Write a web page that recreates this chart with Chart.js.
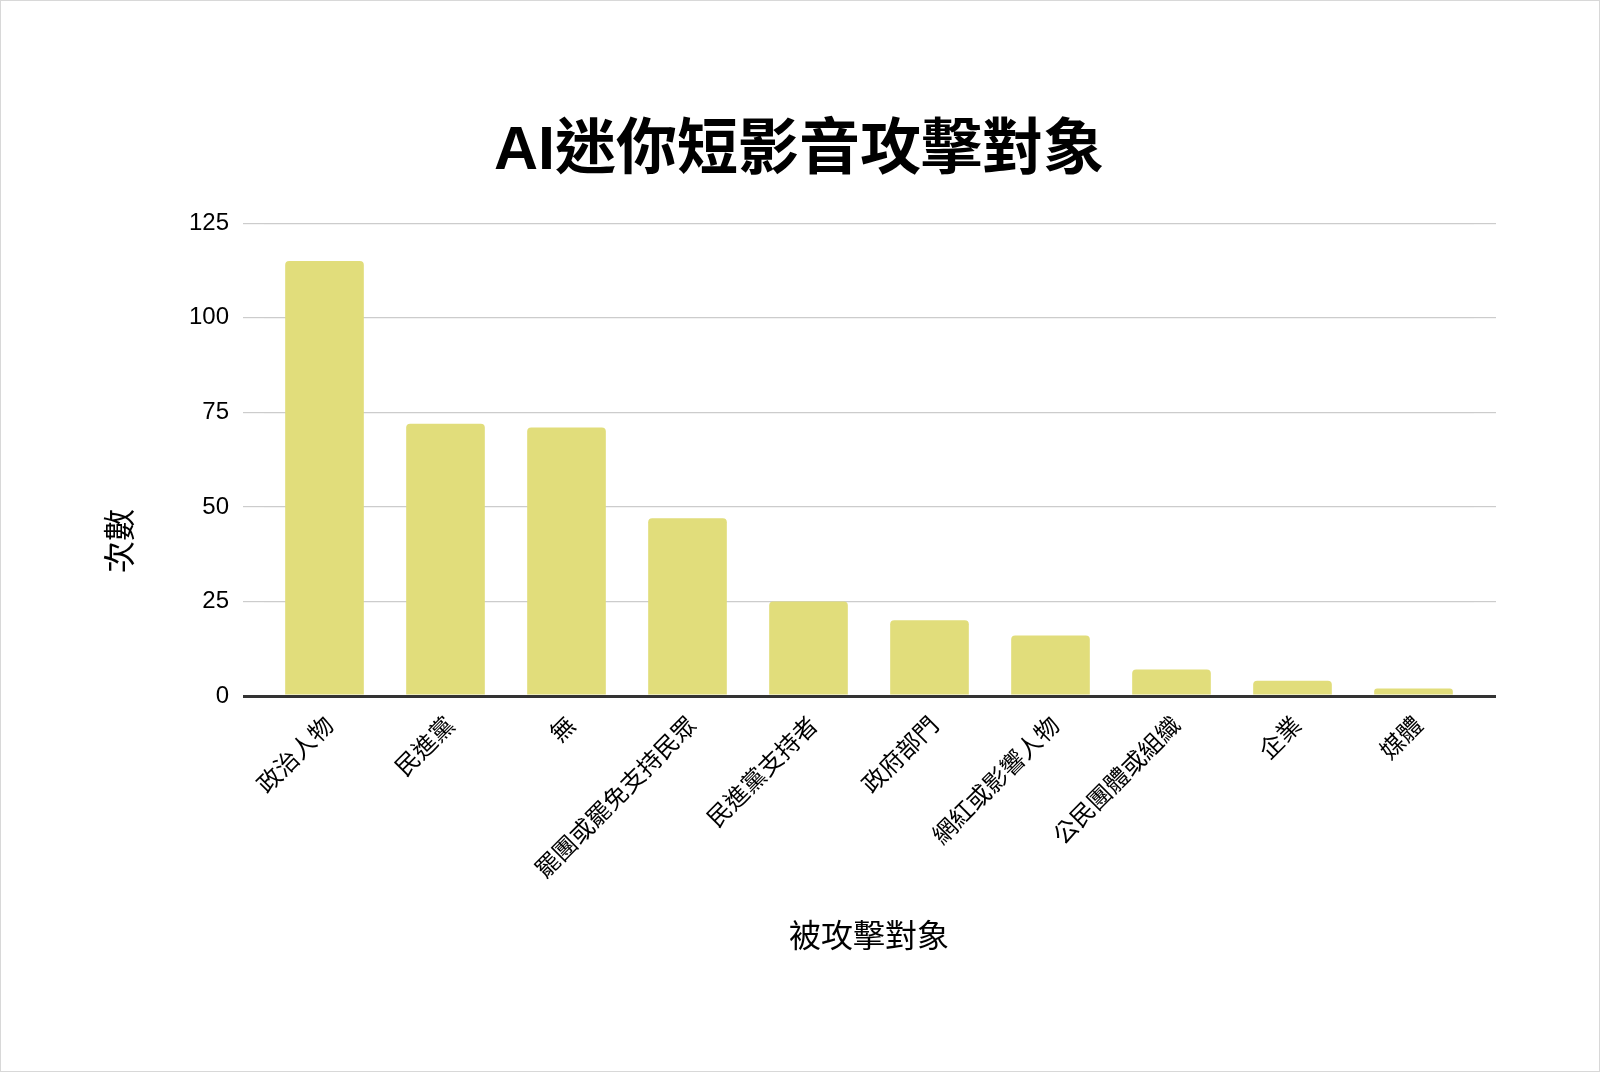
<!DOCTYPE html>
<html>
<head>
<meta charset="utf-8">
<script src="https://cdn.jsdelivr.net/npm/chart.js@4/dist/chart.umd.min.js"></script>
<style>
  body { margin: 0; background: #fff; }
  #wrap { position: relative; width: 1600px; height: 1072px; }
  #frame { position: absolute; left: 0; top: 0; width: 1598px; height: 1070px; border: 1px solid #d8d8d8; pointer-events: none; }
</style>
</head>
<body>
<div id="wrap">
  <canvas id="chart" width="1600" height="1072"></canvas>
  <div id="frame"></div>
</div>
<script>
const chartTitle = 'AI迷你短影音攻擊對象'
const xTitle = '被攻擊對象'
const yTitle = '次數'

const categories = ['政治人物', '民進黨', '無', '罷團或罷免支持民眾', '民進黨支持者', '政府部門', '網紅或影響人物', '公民團體或組織', '企業', '媒體']
const counts = [115, 72, 71, 47, 25, 20, 16, 7, 4, 2]
const yTicks = [0, 25, 50, 75, 100, 125]

const fontFamily = "'Liberation Sans', 'Noto Sans CJK TC', sans-serif"
const gridColor = (ctx) => ctx.tick && ctx.tick.value === 0 ? '#333333' : '#cccccc'
const gridWidth = (ctx) => ctx.tick && ctx.tick.value === 0 ? 3 : 1.2

const yRange = {
  min: yTicks[0],
  max: yTicks[yTicks.length - 1],
  stepSize: yTicks[1] - yTicks[0]
}

// the y title sits lower than chart.js would centre it, so draw it by hand
const yTitlePlugin = {
  id: 'yTitle',
  afterDraw: (chart) => {
    const c = chart.ctx
    c.save()
    c.translate(122, 541)
    c.rotate(-Math.PI / 2)
    c.font = `32px ${fontFamily}`
    c.fillStyle = '#000'
    c.textAlign = 'center'
    c.textBaseline = 'middle'
    c.fillText(yTitle, 0, 0)
    c.restore()
  }
}

const load = () => {
  const ctx = document.getElementById('chart')
  new Chart(ctx, {
    type: 'bar',
    data: {
      labels: categories,
      datasets: [{
        label: yTitle,
        data: counts,
        backgroundColor: '#e1dd7b',
        borderRadius: { topLeft: 4, topRight: 4 },
        borderSkipped: 'start',
        categoryPercentage: 1,
        barPercentage: 0.65
      }]
    },
    options: {
      responsive: false,
      animation: false,
      layout: { padding: { top: 40, left: 102, right: 104, bottom: 100 } },
      plugins: {
        legend: { display: false },
        tooltip: { enabled: false },
        title: {
          display: true,
          text: chartTitle,
          color: '#000',
          font: { family: fontFamily, size: 61, weight: 'bold', lineHeight: 1.2 },
          padding: { top: 76, bottom: 34 }
        }
      },
      scales: {
        x: {
          grid: { display: false },
          border: { display: false },
          ticks: {
            color: '#000',
            font: { family: fontFamily, size: 24 },
            minRotation: 45,
            maxRotation: 45,
            autoSkip: false,
            padding: 8,
            labelOffset: 6
          },
          title: {
            display: true,
            text: xTitle,
            color: '#000',
            font: { family: fontFamily, size: 32, lineHeight: 1.2 },
            padding: { top: 0, bottom: 15 }
          },
          afterFit: (scale) => { scale.height = 276 }
        },
        y: {
          position: 'left',
          min: yRange.min,
          max: yRange.max,
          grid: { color: gridColor, lineWidth: gridWidth, tickColor: gridColor, tickLength: 21 },
          border: { display: false },
          ticks: {
            stepSize: yRange.stepSize,
            color: '#000',
            font: { family: fontFamily, size: 24 },
            padding: 14
          },
          afterFit: (scale) => { scale.width = 162 }
        },
        yRight: {
          position: 'right',
          min: yRange.min,
          max: yRange.max,
          grid: { drawOnChartArea: false, tickColor: gridColor, lineWidth: gridWidth, tickLength: 22 },
          border: { display: false },
          ticks: { stepSize: yRange.stepSize, display: false },
          afterFit: (scale) => { scale.width = 22 }
        }
      }
    },
    plugins: [yTitlePlugin]
  })
}

load()
</script>
</body>
</html>
